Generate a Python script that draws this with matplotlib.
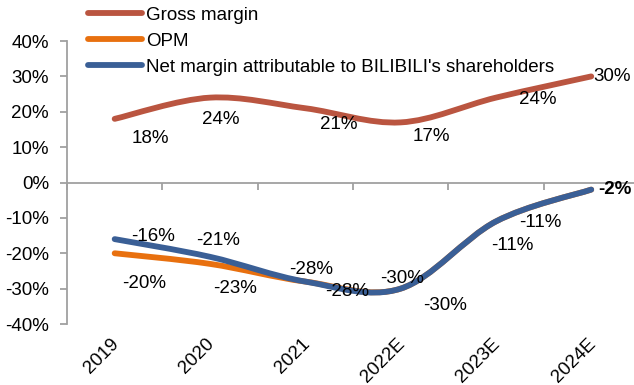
import matplotlib
matplotlib.use("Agg")
import matplotlib.pyplot as plt
from matplotlib.path import Path
from matplotlib.patches import PathPatch
from matplotlib.lines import Line2D
import numpy as np

plt.rcParams["font.family"] = ["Liberation Sans", "DejaVu Sans"]

years = ["2019", "2020", "2021", "2022E", "2023E", "2024E"]
gross_margin = [18, 24, 21, 17, 24, 30]
opm = [-20, -23, -28, -30, -11, -2]
net_margin = [-16, -21, -28, -30, -11, -2]

series_names = ["Gross margin", "OPM",
                "Net margin attributable to BILIBILI's shareholders"]
colors = ["#BA5540", "#E8700F", "#3A5F96"]

# label offsets (points) for each data label, hand-placed
gross_off = [(26, -14), (8, -16), (24, -12), (22, -10), (30, -1), (15, 0)]
opm_off = [(21, -22), (18, -18), (30, -7), (32, -12), (12, -17), (17, 1)]
net_off = [(28, 2), (6, 12), (4, 9), (1, 7), (32, -1), (17, 0)]

FS = 13.5


def smooth_path(xs, ys, tension=1 / 6):
    """Excel-style smoothed line as cubic Bezier segments."""
    pts = np.column_stack([xs, ys]).astype(float)
    n = len(pts)
    verts = [pts[0]]
    codes = [Path.MOVETO]
    for i in range(n - 1):
        p0 = pts[max(i - 1, 0)]
        p1 = pts[i]
        p2 = pts[i + 1]
        p3 = pts[min(i + 2, n - 1)]
        c1 = p1 + (p2 - p0) * tension
        c2 = p2 - (p3 - p1) * tension
        verts += [c1, c2, p2]
        codes += [Path.CURVE4] * 3
    return Path(verts, codes)


fig = plt.figure(figsize=(6.34, 3.85), dpi=100)
ax = fig.add_axes([0.1057, 0.1584, 0.902, 0.735])

x = np.arange(len(years))
lw = 4.2
for vals, col, z in [(gross_margin, colors[0], 3), (opm, colors[1], 3),
                     (net_margin, colors[2], 4)]:
    patch = PathPatch(smooth_path(x, vals), facecolor="none", edgecolor=col,
                      lw=lw, capstyle="round", joinstyle="round", zorder=z)
    ax.add_patch(patch)

ax.set_xlim(-0.5, 5.5)
ax.set_ylim(-40, 40)

gray = "#A0A0A0"
ax.spines["top"].set_visible(False)
ax.spines["right"].set_visible(False)
ax.spines["bottom"].set_position(("data", 0))
for s in ("left", "bottom"):
    ax.spines[s].set_color(gray)
    ax.spines[s].set_linewidth(1.3)

ax.set_yticks(np.arange(-40, 41, 10))
ax.set_yticklabels([f"{v}%" for v in range(-40, 41, 10)])
ax.set_xticks(np.arange(-0.5, 5.6, 1.0))
ax.set_xticklabels([])
ax.tick_params(axis="both", colors=gray, labelcolor="black", labelsize=FS,
               length=5, width=1.3, direction="out")
ax.tick_params(axis="y", pad=8)

for i, yr in enumerate(years):
    ax.annotate(yr, xy=(i, -40), xycoords="data", xytext=(-3, -8),
                textcoords="offset points", rotation=45, ha="right",
                va="top", rotation_mode="anchor", fontsize=FS)


def label(vals, offs, bold_last=False):
    for i, (v, (dx, dy)) in enumerate(zip(vals, offs)):
        bold = bold_last and i == len(vals) - 1
        ax.annotate(f"{v}%", xy=(i, v), xytext=(dx, dy),
                    textcoords="offset points", ha="center", va="center",
                    fontsize=FS, fontweight="bold" if bold else "normal",
                    zorder=6)


label(gross_margin, gross_off)
label(opm, opm_off[:-1])
label(net_margin, net_off, bold_last=True)

handles = [Line2D([], [], color=c, lw=lw, solid_capstyle="round")
           for c in colors]
fig.legend(handles, series_names, loc="upper left",
           bbox_to_anchor=(0.134, 0.99), frameon=False, fontsize=FS,
           handlelength=2.9, handletextpad=0.2, labelspacing=0.48,
           borderpad=0.15, borderaxespad=0)

fig.savefig("out.png", dpi=100)
